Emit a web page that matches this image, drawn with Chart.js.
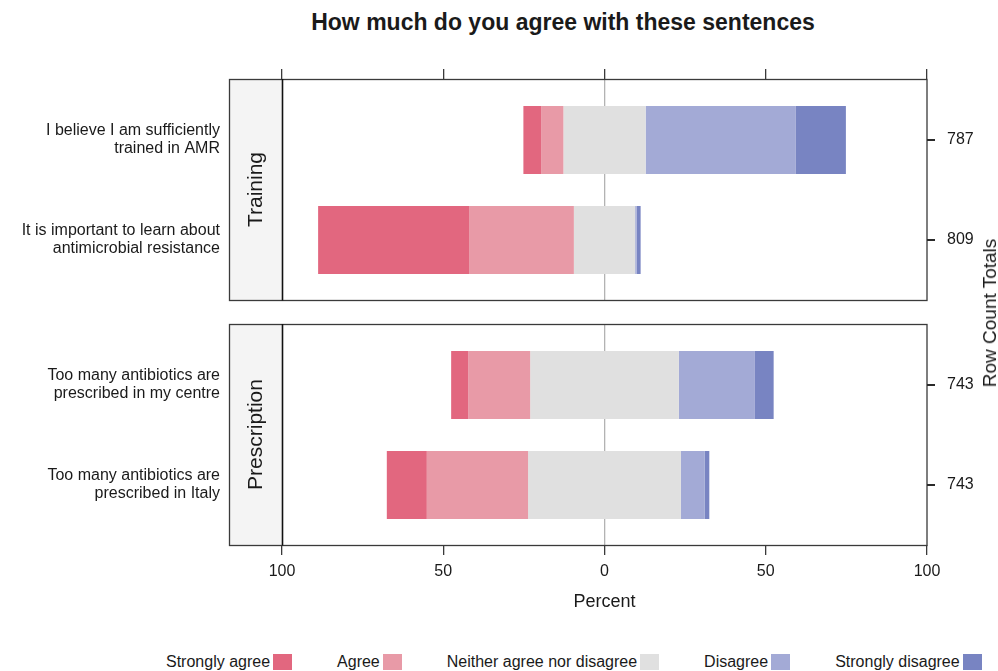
<!DOCTYPE html>
<html>
<head>
<meta charset="utf-8">
<title>How much do you agree with these sentences</title>
<script src="https://cdn.jsdelivr.net/npm/chart.js@4/dist/chart.umd.min.js"></script>
<style>
  html, body { margin: 0; padding: 0; background: #ffffff; }
  body {
    width: 998px; height: 671px; position: relative; overflow: hidden;
    font-family: "Liberation Sans", Arial, Helvetica, sans-serif; color: #1a1a1a;
  }
  #title {
    position: absolute; left: 0; width: 1126px; top: 8px; text-align: center;
    font-weight: bold; font-size: 23px; line-height: 28px;
  }
  canvas { position: absolute; left: 0; }
  #cTraining { top: 0; }
  #cPrescription { top: 310px; }
  #rowTitle {
    position: absolute; left: 990px; top: 313px; font-size: 19px; white-space: nowrap;
    transform: translate(-50%, -50%) rotate(-90deg);
  }
  #legend {
    position: absolute; left: 166px; top: 652px; display: flex; gap: 45px;
    font-size: 16px; line-height: 20px; white-space: nowrap;
  }
  #legend .item { display: flex; align-items: center; gap: 3px; }
  #legend .sw { display: inline-block; width: 19px; height: 16px; }
</style>
</head>
<body>
<div id="title">How much do you agree with these sentences</div>
<canvas id="cTraining" width="998" height="310"></canvas>
<canvas id="cPrescription" width="998" height="320"></canvas>
<div id="rowTitle">Row Count Totals</div>
<div id="legend"></div>

<script>
// Response levels, from most agreeing to most disagreeing
const levels = ['Strongly agree', 'Agree', 'Neither agree nor disagree', 'Disagree', 'Strongly disagree'];
const levelColors = ['#E2677F', '#E89AA7', '#E0E0E0', '#A3AAD6', '#7884C2'];

// Statements (one per row), grouped into two panels
const statements = [
  ['I believe I am sufficiently', 'trained in AMR'],
  ['It is important to learn about', 'antimicrobial resistance'],
  ['Too many antibiotics are', 'prescribed in my centre'],
  ['Too many antibiotics are', 'prescribed in Italy']
];
const rowTotals = ['787', '809', '743', '743'];
const panelNames = ['Training', 'Prescription'];
const panelRows = [[0, 1], [2, 3]];

// Percent of respondents per level, one value per statement
const stronglyAgree    = [5.5, 46.8, 5.3, 12.4];
const agree            = [6.9, 32.5, 19.2, 31.4];
const neither          = [25.5, 19.0, 46.1, 47.4];
const disagree         = [46.6, 0.5, 23.6, 7.3];
const stronglyDisagree = [15.5, 1.2, 5.8, 1.5];

// Axis ticks (percent)
const percentTicks = [-100, -50, 0, 50, 100];

const levelValues = [stronglyAgree, agree, neither, disagree, stronglyDisagree];

// Diverging layout: the neutral block is split evenly around zero
function segments(row) {
  const v = levelValues.map(a => a[row]);
  let start = -(v[0] + v[1] + v[2] / 2);
  return v.map(val => { const s = [start, start + val]; start += val; return s; });
}

const frameColor = '#3a3a3a';
const zeroLineColor = '#b3b3b3';
const stripWidth = 53;
const rightTickLength = 8;

// Panel box, strip on the left with the panel name, tick marks of the totals axis
const panelFrame = {
  id: 'panelFrame',
  afterDraw(chart) {
    const { ctx, chartArea: a } = chart;
    const name = chart.options.plugins.panelFrame.name;
    const x0 = a.left - stripWidth;
    ctx.save();
    ctx.fillStyle = '#f4f4f4';
    ctx.fillRect(x0, a.top, stripWidth, a.bottom - a.top);
    ctx.strokeStyle = frameColor;
    ctx.lineWidth = 1.3;
    ctx.strokeRect(x0 + 0.5, a.top + 0.5, a.right - x0 - 0.5, a.bottom - a.top);

    const y2 = chart.scales.y2;
    ctx.fillStyle = '#2a2a2a';
    y2.ticks.forEach(t => {
      const py = Math.round(y2.getPixelForValue(t.value));
      ctx.fillRect(Math.round(a.right), py - 1, rightTickLength, 2);
    });

    ctx.strokeStyle = '#111';
    ctx.lineWidth = 1.6;
    ctx.beginPath();
    ctx.moveTo(a.left + 0.5, a.top);
    ctx.lineTo(a.left + 0.5, a.bottom + 0.5);
    ctx.stroke();
    ctx.translate(x0 + stripWidth / 2, (a.top + a.bottom) / 2);
    ctx.rotate(-Math.PI / 2);
    ctx.fillStyle = '#1a1a1a';
    ctx.font = '21px "Liberation Sans", Arial, sans-serif';
    ctx.textAlign = 'center';
    ctx.textBaseline = 'middle';
    ctx.fillText(name, 0, 1);
    ctx.restore();
  }
};

const fontFamily = '"Liberation Sans", Arial, sans-serif';

function makePanel(canvasId, panelIndex, bottom) {
  const rows = panelRows[panelIndex];
  const datasets = levels.map((lv, k) => ({
    label: lv,
    data: rows.map((r, j) => ({ x: segments(r)[k], y: j + 1 })),
    backgroundColor: levelColors[k],
    borderWidth: 0,
    grouped: false,
    barPercentage: 0.68,
    categoryPercentage: 1
  }));

  const fixedTicks = scale => { scale.ticks = [{ value: 1 }, { value: 2 }]; };
  const noEdgePadding = s => { s.paddingTop = 0; s.paddingBottom = 0; };

  return new Chart(document.getElementById(canvasId), {
    type: 'bar',
    data: { datasets },
    plugins: [panelFrame],
    options: {
      indexAxis: 'y',
      responsive: false,
      animation: false,
      layout: {
        autoPadding: false,
        padding: bottom ? { top: 14, bottom: 10, left: 0, right: 0 } : { top: 69, bottom: 10, left: 0, right: 0 }
      },
      plugins: {
        legend: { display: false },
        tooltip: { enabled: false },
        panelFrame: { name: panelNames[panelIndex] }
      },
      scales: {
        x: {
          type: 'linear',
          position: bottom ? 'bottom' : 'top',
          min: -100, max: 100,
          afterBuildTicks: s => { s.ticks = percentTicks.map(v => ({ value: v })); },
          afterFit: s => { s.height = bottom ? 75 : 10; s.paddingLeft = 0; s.paddingRight = 0; },
          border: { display: false },
          grid: {
            color: c => (c.tick && c.tick.value === 0 ? zeroLineColor : 'rgba(0,0,0,0)'),
            lineWidth: 1.3,
            drawTicks: true,
            tickLength: 10,
            tickColor: frameColor,
            tickWidth: 1.3
          },
          ticks: {
            display: bottom,
            padding: 7,
            maxRotation: 0,
            color: '#1a1a1a',
            font: { family: fontFamily, size: 16 },
            callback: v => String(Math.abs(v))
          },
          title: {
            display: bottom,
            text: 'Percent',
            color: '#1a1a1a',
            font: { family: fontFamily, size: 18 },
            padding: { top: 0, bottom: 7 }
          }
        },
        y: {
          type: 'linear',
          position: 'left',
          reverse: true,
          offset: false,
          min: 0.39, max: 2.6,
          afterBuildTicks: fixedTicks,
          afterFit: s => { s.width = 282; noEdgePadding(s); },
          border: { display: false },
          grid: { display: false, drawTicks: false, offset: false },
          ticks: {
            padding: 62,
            color: '#1a1a1a',
            font: { family: fontFamily, size: 16, lineHeight: 1.125 },
            callback: v => statements[rows[Math.round(v) - 1]]
          }
        },
        y2: {
          type: 'linear',
          position: 'right',
          reverse: true,
          offset: false,
          min: 0.39, max: 2.6,
          afterBuildTicks: fixedTicks,
          afterFit: s => { s.width = 71; noEdgePadding(s); },
          border: { display: false },
          grid: { display: false, offset: false, tickLength: rightTickLength },
          ticks: {
            padding: 12,
            color: '#1a1a1a',
            font: { family: fontFamily, size: 16 },
            callback: v => rowTotals[rows[Math.round(v) - 1]]
          }
        }
      }
    }
  });
}

makePanel('cTraining', 0, false);
makePanel('cPrescription', 1, true);

// Legend: label followed by its colour key
const legend = document.getElementById('legend');
levels.forEach((lv, k) => {
  const item = document.createElement('span');
  item.className = 'item';
  const txt = document.createElement('span');
  txt.textContent = lv;
  const sw = document.createElement('span');
  sw.className = 'sw';
  sw.style.background = levelColors[k];
  item.appendChild(txt);
  item.appendChild(sw);
  legend.appendChild(item);
});
</script>
</body>
</html>
